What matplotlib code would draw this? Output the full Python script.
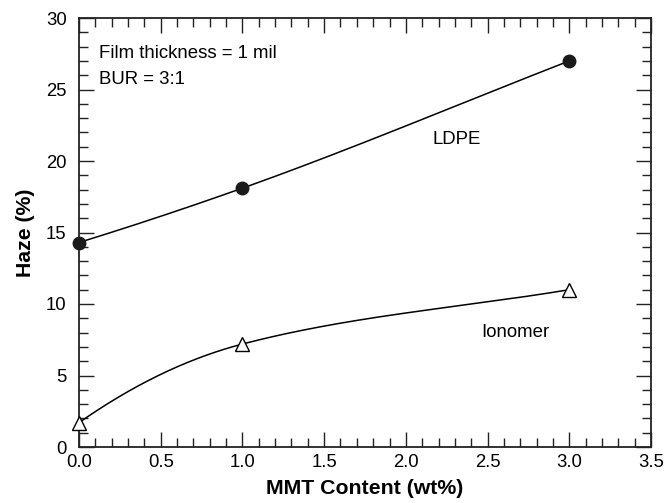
import numpy as np
import matplotlib
matplotlib.use("Agg")
import matplotlib.pyplot as plt
from matplotlib.ticker import MultipleLocator, FormatStrFormatter

# ---- data ----
mmt = [0.0, 1.0, 3.0]
ldpe_haze = [14.3, 18.1, 27.0]
ionomer_haze = [1.7, 7.2, 11.0]

xlabel = "MMT Content (wt%)"
ylabel = "Haze (%)"
note_lines = ["Film thickness = 1 mil", "BUR = 3:1"]


def smooth_curve(x, y, n=200):
    """Piecewise cubic Hermite smoothing line through the data points."""
    x = np.asarray(x, float)
    y = np.asarray(y, float)
    h = np.diff(x)
    d = np.diff(y) / h
    m = np.zeros_like(x)
    for k in range(1, len(x) - 1):
        w1 = 2 * h[k] + h[k - 1]
        w2 = h[k] + 2 * h[k - 1]
        if d[k - 1] * d[k] > 0:
            m[k] = (w1 + w2) / (w1 / d[k - 1] + w2 / d[k])
    m[0] = 2 * d[0] - m[1]
    m[-1] = d[-1]
    xs, ys = [], []
    for k in range(len(x) - 1):
        t = np.linspace(0, 1, n)
        h00 = 2 * t**3 - 3 * t**2 + 1
        h10 = t**3 - 2 * t**2 + t
        h01 = -2 * t**3 + 3 * t**2
        h11 = t**3 - t**2
        xs.append(x[k] + t * h[k])
        ys.append(h00 * y[k] + h10 * h[k] * m[k] + h01 * y[k + 1] + h11 * h[k] * m[k + 1])
    return np.concatenate(xs), np.concatenate(ys)


plt.rcParams['font.family'] = ['Liberation Sans', 'DejaVu Sans']

fig = plt.figure(figsize=(6.66, 5.03), dpi=100)
ax = fig.add_axes([79 / 666, 1 - 447 / 503, (651 - 79) / 666, (447 - 18) / 503])

axis_color = "#222222"

xs, ys = smooth_curve(mmt, ldpe_haze)
ax.plot(xs, ys, color="black", lw=1.1, zorder=2)
xs, ys = smooth_curve(mmt, ionomer_haze)
ax.plot(xs, ys, color="black", lw=1.1, zorder=2)

ax.plot(mmt, ldpe_haze, linestyle="none", marker="o", markersize=9,
        markerfacecolor="#1a1a1a", markeredgecolor="#1a1a1a", zorder=3, clip_on=False)
ax.plot(mmt, ionomer_haze, linestyle="none", marker="^", markersize=9.5,
        markerfacecolor="white", markeredgecolor="black", markeredgewidth=1.0,
        zorder=3, clip_on=False)

ax.set_xlim(0, 3.5)
ax.set_ylim(0, 30)
ax.xaxis.set_major_locator(MultipleLocator(0.5))
ax.xaxis.set_minor_locator(MultipleLocator(0.1))
ax.yaxis.set_major_locator(MultipleLocator(5))
ax.yaxis.set_minor_locator(MultipleLocator(1))
ax.xaxis.set_major_formatter(FormatStrFormatter('%.1f'))
ax.yaxis.set_major_formatter(FormatStrFormatter('%d'))

ax.tick_params(which="both", direction="in", top=True, right=True,
               color=axis_color, width=1.0)
ax.tick_params(which="major", length=10.5, labelsize=13.3, labelcolor="black")
ax.tick_params(which="minor", length=6.8)
ax.tick_params(axis="x", which="major", pad=5)
ax.tick_params(axis="y", which="major", pad=9)

for sp in ax.spines.values():
    sp.set_color(axis_color)
    sp.set_linewidth(1.3)

ax.set_xlabel(xlabel, fontsize=15.3, fontweight="bold", labelpad=6)
ax.set_ylabel(ylabel, fontsize=15.3, fontweight="bold", labelpad=8)

ax.text(0.12, 27.55, note_lines[0], fontsize=13.4, ha="left", va="center")
ax.text(0.12, 25.7, note_lines[1], fontsize=13.4, ha="left", va="center")
ax.text(2.31, 21.5, "LDPE", fontsize=13.4, ha="center", va="center")
ax.text(2.67, 8.0, "Ionomer", fontsize=13.4, ha="center", va="center")

fig.savefig("out.png", dpi=100)
